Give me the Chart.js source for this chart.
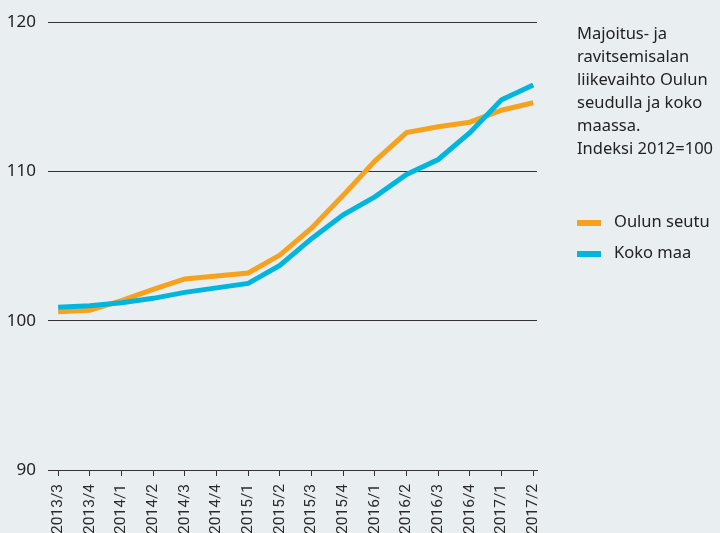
<!DOCTYPE html>
<html>
<head>
<meta charset="utf-8">
<script src="https://cdn.jsdelivr.net/npm/chart.js@4"></script>
<style>
  html, body { margin: 0; padding: 0; background: #e9eef1; }
  #wrap { position: relative; width: 720px; height: 533px; }
  #note {
    position: absolute; left: 577px; top: 21px;
    font: 16.5px "Noto Sans", sans-serif; line-height: 23px; color: #222;
  }
  .leg { position: absolute; left: 577px; font: 16.5px "Noto Sans", sans-serif; color: #222; }
  .leg span { display: inline-block; width: 24px; height: 6px; margin-right: 13px; vertical-align: middle; }
</style>
</head>
<body>
<div id="wrap">
  <canvas id="chart" width="720" height="533"></canvas>
  <div id="note">Majoitus- ja<br>ravitsemisalan<br>liikevaihto Oulun<br>seudulla ja koko<br>maassa.<br>Indeksi 2012=100</div>
  <div class="leg" style="top:209px"><span style="background:#f7a21e"></span>Oulun seutu</div>
  <div class="leg" style="top:240px"><span style="background:#00b6df"></span>Koko maa</div>
</div>
<script>
const quarters = ['2013/3', '2013/4', '2014/1', '2014/2', '2014/3', '2014/4', '2015/1', '2015/2',
  '2015/3', '2015/4', '2016/1', '2016/2', '2016/3', '2016/4', '2017/1', '2017/2'];
const oulunSeutu = [100.6, 100.7, 101.35, 102.1, 102.8, 103.0, 103.2, 104.4,
  106.2, 108.4, 110.7, 112.6, 113.0, 113.3, 114.1, 114.6];
const kokoMaa = [100.9, 101.0, 101.2, 101.5, 101.9, 102.2, 102.5, 103.7,
  105.5, 107.1, 108.3, 109.8, 110.8, 112.6, 114.8, 115.8];
const yTicks = [90, 100, 110, 120];

const toPoints = vals => vals.map((v, i) => ({ x: i, y: v }));

new Chart(document.getElementById('chart'), {
  type: 'line',
  data: {
    datasets: [
      { label: 'Oulun seutu', data: toPoints(oulunSeutu), borderColor: '#f7a21e', order: 1 },
      { label: 'Koko maa', data: toPoints(kokoMaa), borderColor: '#00b6df', order: 0 },
    ],
  },
  options: {
    responsive: false,
    animation: false,
    layout: { padding: { top: 22, right: 183, left: 0, bottom: 0 } },
    elements: {
      line: { borderWidth: 5, tension: 0, borderCapStyle: 'butt', fill: false },
      point: { radius: 0 },
    },
    plugins: { legend: { display: false }, tooltip: { enabled: false } },
    scales: {
      x: {
        type: 'linear',
        min: -0.32,
        max: 15.12,
        afterBuildTicks: s => { s.ticks = quarters.map((q, i) => ({ value: i })); },
        afterFit: s => { s.height = 63; },
        grid: { drawOnChartArea: false, drawTicks: true, tickLength: 6, color: '#333' },
        border: { display: true, color: '#333' },
        ticks: {
          minRotation: 90, maxRotation: 90, autoSkip: false, padding: 8,
          color: '#2a2a2a', font: { family: '"Liberation Sans Narrow", "Roboto", sans-serif', size: 15.5 },
          callback: v => quarters[v],
        },
      },
      y: {
        min: 90,
        max: 120,
        afterBuildTicks: s => { s.ticks = yTicks.map(v => ({ value: v })); },
        afterFit: s => { s.width = 48; },
        grid: { color: '#333', drawTicks: false },
        border: { display: false },
        ticks: {
          padding: 12, color: '#222',
          font: { family: '"Noto Sans", sans-serif', size: 17 },
        },
      },
    },
  },
});
</script>
</body>
</html>
